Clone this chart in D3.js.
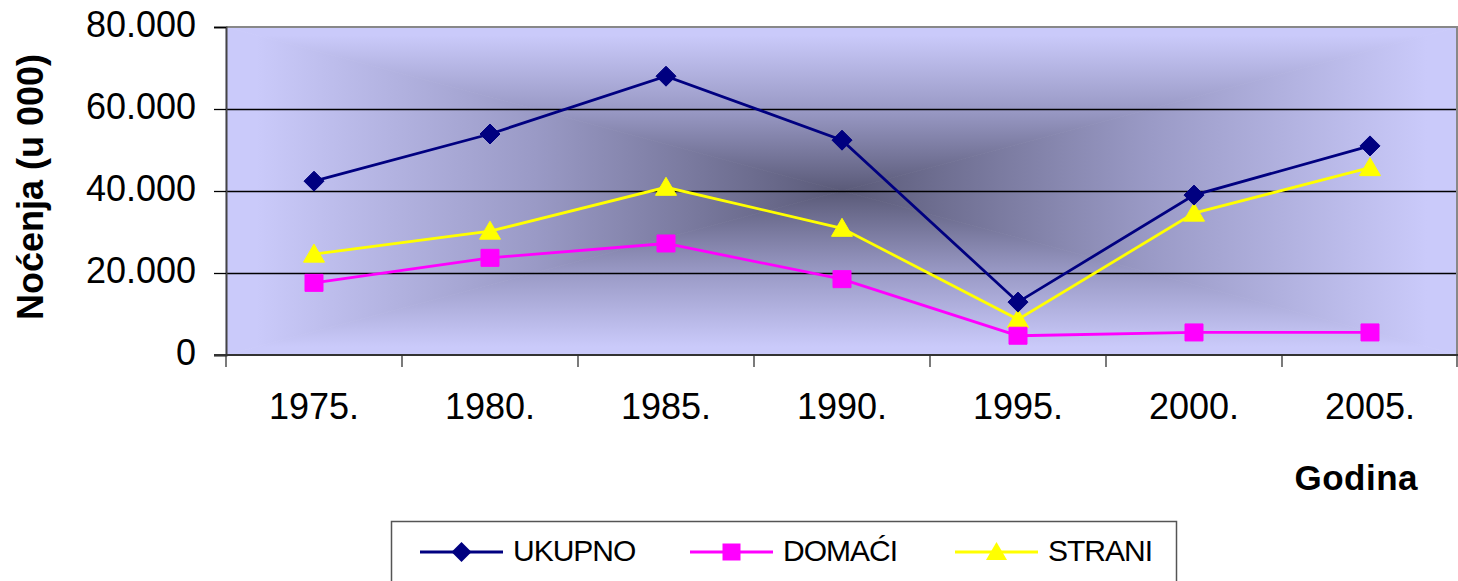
<!DOCTYPE html>
<html>
<head>
<meta charset="utf-8">
<script src="https://cdn.jsdelivr.net/npm/d3@7"></script>
<style>
  body { margin: 0; background: #fff; }
  svg { display: block; font-family: "Liberation Sans", Arial, sans-serif; }
</style>
</head>
<body>
<div class="container"></div>
<script>
var years = ['1975.', '1980.', '1985.', '1990.', '1995.', '2000.', '2005.'];
var ukupno = [42400, 53900, 68000, 52400, 12900, 39000, 51000];
var domaci = [17600, 23700, 27200, 18500, 4700, 5500, 5500];
var strani = [24600, 30200, 40900, 30900, 8700, 34600, 45700];
var yTicks = [0, 20000, 40000, 60000, 80000];
var seriesNames = ['UKUPNO', 'DOMAĆI', 'STRANI'];

buildChart();

function buildChart() {

  var w = 1458, h = 581;
  var left = 226, right = 1458, top = 27, bottom = 355;

  var svg = d3.select('.container')
    .append('svg')
    .attr('width', w)
    .attr('height', h);

  var xScale = d3.scaleBand()
    .domain(years)
    .range([left, right])
    .padding(0);

  var yScale = d3.scaleLinear()
    .domain([0, 80000])
    .range([bottom, top]);

  var series = [
    {name: seriesNames[0], values: ukupno, color: '#000080', marker: 'diamond'},
    {name: seriesNames[1], values: domaci, color: '#FF00FF', marker: 'square'},
    {name: seriesNames[2], values: strani, color: '#FFFF00', marker: 'triangle'}
  ];

  /* plot area with rectangular "from center" gradient */
  var defs = svg.append('defs');
  var cx = (left + right) / 2, cy = (top + bottom) / 2;
  var edge = '#CACAFA', mid = '#9A9AC6', center = '#5A5A78';

  function grad(id, x1, y1, x2, y2) {
    var g = defs.append('linearGradient')
      .attr('id', id)
      .attr('gradientUnits', 'userSpaceOnUse')
      .attr('x1', x1).attr('y1', y1).attr('x2', x2).attr('y2', y2);
    g.append('stop').attr('offset', 0.05).attr('stop-color', edge);
    g.append('stop').attr('offset', 0.5).attr('stop-color', mid);
    g.append('stop').attr('offset', 1).attr('stop-color', center);
  }
  grad('gTop', 0, top, 0, cy);
  grad('gBot', 0, bottom, 0, cy);
  grad('gLeft', left, 0, cx, 0);
  grad('gRight', right, 0, cx, 0);

  var bg = svg.append('g');
  var tris = [
    {pts: [[left, top], [right, top], [cx, cy]], g: 'gTop'},
    {pts: [[left, bottom], [right, bottom], [cx, cy]], g: 'gBot'},
    {pts: [[left, top], [left, bottom], [cx, cy]], g: 'gLeft'},
    {pts: [[right, top], [right, bottom], [cx, cy]], g: 'gRight'}
  ];
  bg.selectAll('polygon')
    .data(tris)
    .enter()
    .append('polygon')
    .attr('points', function(d) { return d.pts.map(function(p) { return p.join(','); }).join(' '); })
    .attr('fill', function(d) { return 'url(#' + d.g + ')'; })
    .attr('stroke', function(d) { return 'url(#' + d.g + ')'; })
    .attr('stroke-width', 0.8);

  /* gridlines */
  svg.append('g')
    .selectAll('line')
    .data(yTicks.filter(function(d) { return d > 0 && d < 80000; }))
    .enter()
    .append('line')
    .attr('x1', left).attr('x2', right)
    .attr('y1', function(d) { return Math.round(yScale(d)) + 0.5; })
    .attr('y2', function(d) { return Math.round(yScale(d)) + 0.5; })
    .attr('stroke', '#000')
    .attr('stroke-width', 1.3);

  /* borders */
  svg.append('line').attr('x1', left).attr('x2', right).attr('y1', top).attr('y2', top)
    .attr('stroke', '#888').attr('stroke-width', 2);
  svg.append('line').attr('x1', right - 1).attr('x2', right - 1).attr('y1', top).attr('y2', bottom)
    .attr('stroke', '#888').attr('stroke-width', 2);

  /* Axes */
  var fmt = d3.formatLocale({decimal: ',', thousands: '.', grouping: [3], currency: ['', '']}).format(',');

  var yAxis = d3.axisLeft(yScale)
    .tickValues(yTicks)
    .tickSize(12)
    .tickPadding(18)
    .tickFormat(fmt);

  var gy = svg.append('g')
    .attr('transform', 'translate(' + left + ',0)')
    .call(yAxis);
  gy.select('.domain').attr('stroke', '#444').attr('stroke-width', 2);
  gy.selectAll('.tick line').attr('stroke', '#000').attr('stroke-width', 1.3);
  gy.selectAll('.tick text')
    .attr('font-family', '"Liberation Sans", Arial, sans-serif')
    .attr('font-size', '36px')
    .attr('fill', '#000')
    .attr('dy', '0.26em');

  var xAxis = d3.axisBottom(xScale)
    .tickSize(0)
    .tickPadding(0);

  var gx = svg.append('g')
    .attr('transform', 'translate(0,' + bottom + ')')
    .call(xAxis);
  gx.select('.domain').remove();
  gx.selectAll('.tick text')
    .attr('font-family', '"Liberation Sans", Arial, sans-serif')
    .attr('font-size', '36px')
    .attr('fill', '#000')
    .attr('dy', 0)
    .attr('y', 64);

  svg.append('line').attr('x1', left - 12).attr('x2', right).attr('y1', bottom).attr('y2', bottom)
    .attr('stroke', '#333').attr('stroke-width', 2);

  /* category boundary ticks */
  var bounds = years.map(function(d) { return xScale(d); }).concat([right - 1]);
  svg.append('g')
    .selectAll('line')
    .data(bounds)
    .enter()
    .append('line')
    .attr('x1', function(d) { return d; })
    .attr('x2', function(d) { return d; })
    .attr('y1', bottom)
    .attr('y2', bottom + 12)
    .attr('stroke', '#333')
    .attr('stroke-width', 1.3);

  /* axis titles */
  svg.append('text')
    .attr('transform', 'translate(43,187) rotate(-90)')
    .attr('text-anchor', 'middle')
    .attr('font-size', '36px')
    .attr('font-weight', 'bold')
    .text('Noćenja (u 000)');

  svg.append('text')
    .attr('x', 1418)
    .attr('y', 490)
    .attr('text-anchor', 'end')
    .attr('font-size', '35px')
    .attr('font-weight', 'bold')
    .attr('letter-spacing', '0.5px')
    .text('Godina');

  /* markers */
  function markerPath(type) {
    if (type === 'diamond') return 'M0,-10L10,0L0,10L-10,0Z';
    if (type === 'square') return 'M-9,-8.5L9,-8.5L9,8.5L-9,8.5Z';
    return 'M0,-10L10.5,8L-10.5,8Z';
  }

  var line = d3.line()
    .x(function(d, i) { return xScale(years[i]) + xScale.bandwidth() / 2; })
    .y(function(d) { return yScale(d); });

  // draw order: yellow under magenta under navy
  var order = [series[2], series[1], series[0]];
  var groups = svg.selectAll('g.series')
    .data(order)
    .enter()
    .append('g')
    .attr('class', 'series');

  groups.append('path')
    .attr('d', function(d) { return line(d.values); })
    .attr('fill', 'none')
    .attr('stroke', function(d) { return d.color; })
    .attr('stroke-width', 2.8);

  groups.each(function(s) {
    d3.select(this).selectAll('path.mk')
      .data(s.values)
      .enter()
      .append('path')
      .attr('class', 'mk')
      .attr('d', markerPath(s.marker))
      .attr('transform', function(d, i) {
        return 'translate(' + (xScale(years[i]) + xScale.bandwidth() / 2) + ',' + yScale(d) + ')';
      })
      .attr('fill', s.color)
      .attr('stroke', s.color)
      .attr('stroke-width', 1);
  });

  /* Legend */
  var legend = svg.append('g');
  legend.append('rect')
    .attr('x', 391.5).attr('y', 521.5)
    .attr('width', 785).attr('height', 80)
    .attr('fill', '#fff')
    .attr('stroke', '#555')
    .attr('stroke-width', 1.5);

  var legX = [420, 690, 955];
  var items = legend.selectAll('g.item')
    .data(series)
    .enter()
    .append('g')
    .attr('class', 'item')
    .attr('transform', function(d, i) { return 'translate(' + legX[i] + ',552)'; });

  items.append('line')
    .attr('x1', 0).attr('x2', 83)
    .attr('stroke', function(d) { return d.color; })
    .attr('stroke-width', 2.8);
  items.append('path')
    .attr('d', function(d) { return markerPath(d.marker); })
    .attr('transform', 'translate(41.5,0)')
    .attr('fill', function(d) { return d.color; });
  items.append('text')
    .attr('x', 93)
    .attr('y', 9)
    .attr('font-size', '30px')
    .attr('letter-spacing', '-1px')
    .text(function(d) { return d.name; });
}
</script>
</body>
</html>
